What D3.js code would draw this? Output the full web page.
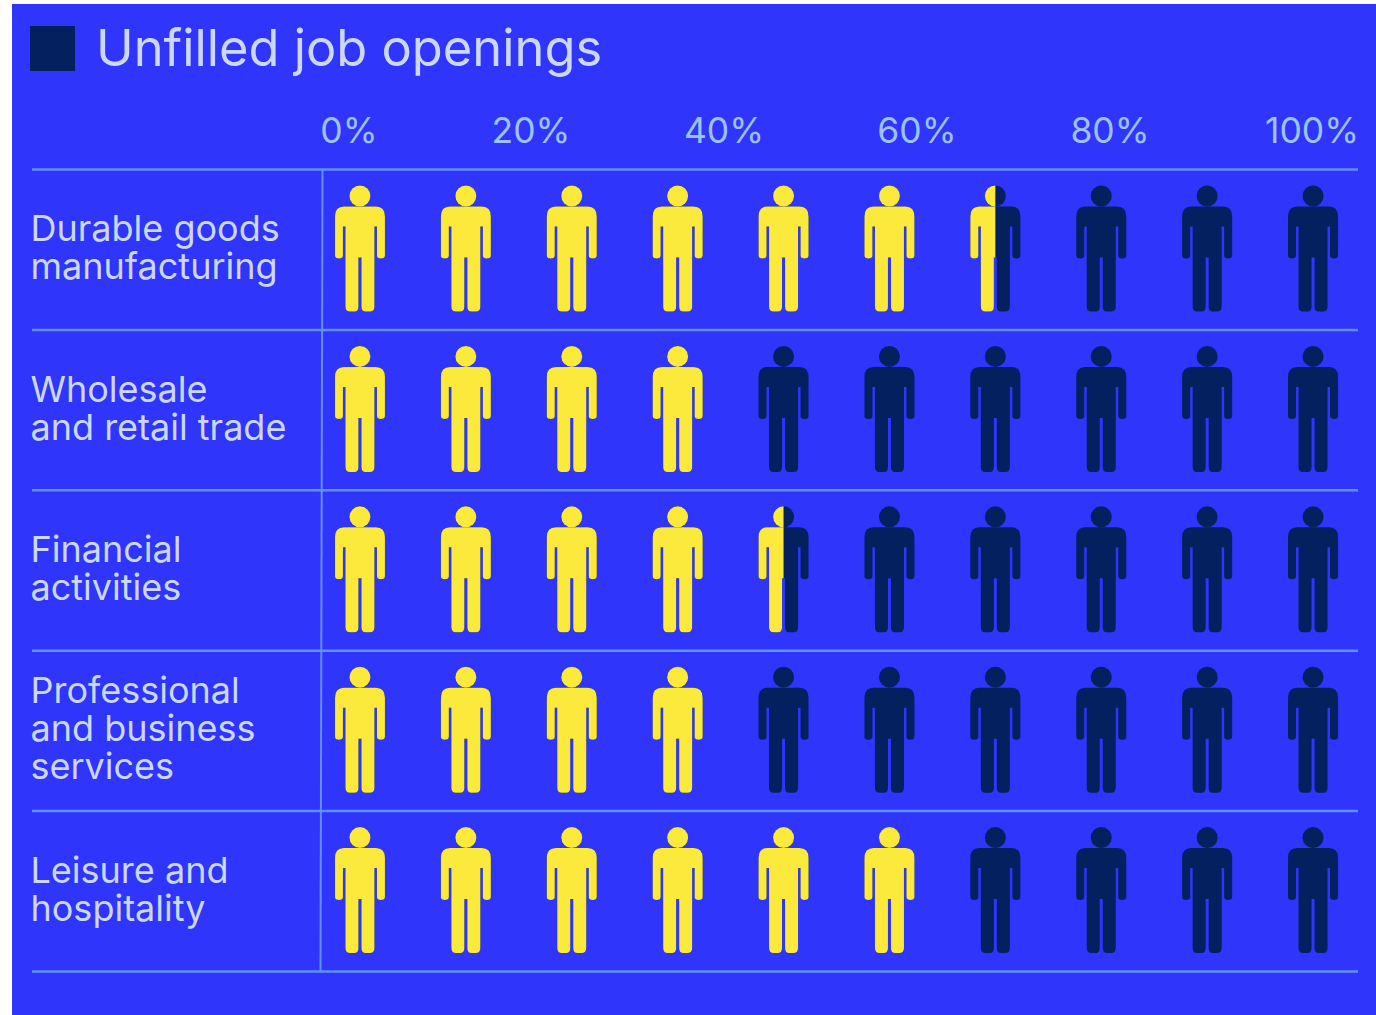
<!DOCTYPE html>
<html>
<head>
<meta charset="utf-8">
<script src="https://cdn.jsdelivr.net/npm/d3@7"></script>
<style>
html,body{margin:0;padding:0;background:#fff}
svg{display:block}
text{font-family:Inter,"Liberation Sans",sans-serif}
</style>
</head>
<body>
<div id="chart"></div>
<script>
// Share of jobs filled per industry, in percent
const categories = ["Durable goods","Wholesale","Financial","Professional","Leisure"];
const labelLines = [
  ["Durable goods","manufacturing"],
  ["Wholesale","and retail trade"],
  ["Financial","activities"],
  ["Professional","and business","services"],
  ["Leisure and","hospitality"]
];
const filled = [65, 40, 45, 40, 60];
const tickValues = [0, 20, 40, 60, 80, 100];
const title = "Unfilled job openings";

const W = 1376, H = 1015;
const colors = {bg:"#2f35fa", yes:"#fbe93c", no:"#04205e", text:"#cbd8fb", tick:"#9cc3fd", rule:"#6190ff"};

const svg = d3.select("#chart").append("svg").attr("width",W).attr("height",H);
svg.append("rect").attr("x",12).attr("y",4).attr("width",W-12).attr("height",H-4).attr("fill",colors.bg);

// Legend swatch and heading
svg.append("rect").attr("x",30).attr("y",26).attr("width",45).attr("height",45).attr("fill",colors.no);
svg.append("text").attr("x",96).attr("y",66).attr("font-size",50.6).attr("fill",colors.text).text(title);

const rowScale = d3.scaleBand().domain(categories).range([169.5,971.5]);
const unitScale = d3.scaleBand().domain(d3.range(10)).range([307,1366]);
const axisScale = d3.scaleLinear().domain([0,20,80,100]).range([349,531,1110,1312]);

// Column headings
svg.append("g").selectAll("text").data(tickValues).join("text")
  .attr("x",d=>axisScale(d)).attr("y",143).attr("text-anchor","middle")
  .attr("font-size",35.5).attr("fill",colors.tick).text(d=>d+"%");

// Horizontal rules between rows, then the vertical rule after the labels
const rules = svg.append("g").attr("stroke",colors.rule).attr("stroke-width",2.5);
rules.selectAll("line").data([...categories.map(c=>rowScale(c)), rowScale.range()[1]]).join("line")
  .attr("x1",32).attr("x2",1358).attr("y1",d=>d).attr("y2",d=>d);
svg.append("line").attr("x1",322.5).attr("x2",320.5).attr("y1",rowScale.range()[0]).attr("y2",rowScale.range()[1])
  .attr("stroke",colors.rule).attr("stroke-width",2);

// Pictogram figure, centred on x=0 with its head at the top
const figure = "M-16 21H16Q25 21 25 31V70Q25 73 21 73Q17 73 17 70V41H14.5V121Q14.5 126 10 126H5.5Q1.5 126 1.5 121V72H-1.5V121Q-1.5 126 -5.5 126H-10Q-14.5 126 -14.5 121V41H-17V70Q-17 73 -21 73Q-25 73 -25 70V31Q-25 21 -16 21Z";
const figureWidth = 51, figureTop = 16;

const defs = svg.append("defs");
const rows = svg.append("g").selectAll("g").data(categories).join("g")
  .attr("transform",c=>`translate(0,${rowScale(c)+figureTop})`);

rows.each(function(c,r){
  const row = d3.select(this);
  const units = row.selectAll("g").data(d3.range(10)).join("g")
    .attr("transform",i=>`translate(${unitScale(i)+unitScale.bandwidth()/2},0)`);
  // Each figure stands for ten percent; the part below the row's value is yellow
  const share = i => Math.max(0,Math.min(1,(filled[r]-i*10)/10));
  units.each(function(i){
    const u = d3.select(this), id = `clip-${r}-${i}`;
    defs.append("clipPath").attr("id",id).append("rect")
      .attr("x",-figureWidth/2).attr("y",-2).attr("width",figureWidth*share(i)).attr("height",132);
    const draw = (sel,fill)=>{
      sel.append("circle").attr("cx",0).attr("cy",10.5).attr("r",10.5).attr("fill",fill);
      sel.append("path").attr("d",figure).attr("fill",fill);
    };
    draw(u.append("g"),colors.no);
    draw(u.append("g").attr("clip-path",`url(#${id})`),colors.yes);
  });
});

// Row labels
svg.append("g").selectAll("text").data(categories).join("text")
  .attr("font-size",36).attr("fill",colors.text)
  .each(function(c,r){
    const lines = labelLines[r];
    const mid = rowScale(c)+rowScale.bandwidth()/2;
    d3.select(this).selectAll("tspan").data(lines).join("tspan")
      .attr("x",30.5)
      .attr("y",(d,k)=>mid+10.5+(k-(lines.length-1)/2)*38)
      .text(d=>d);
  });
</script>
</body>
</html>
